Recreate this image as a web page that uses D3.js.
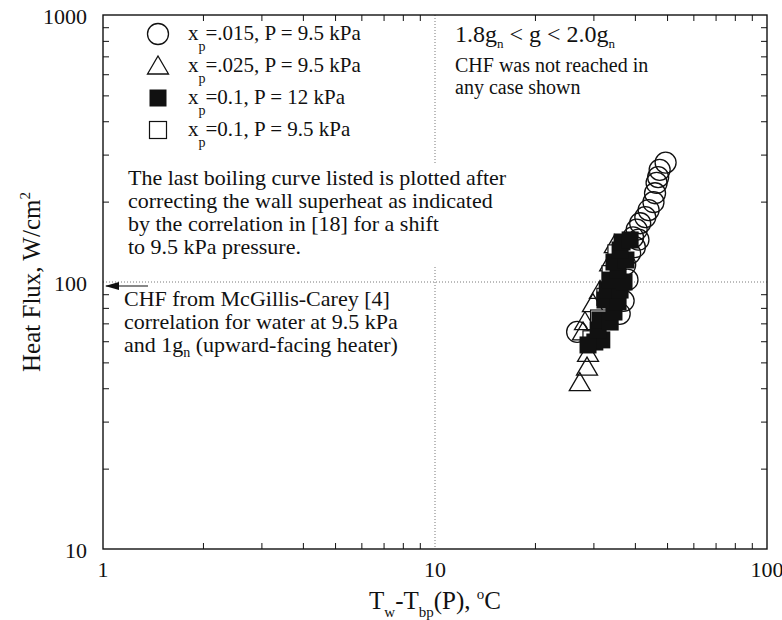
<!DOCTYPE html>
<html>
<head>
<meta charset="utf-8">
<script src="https://cdn.jsdelivr.net/npm/d3@7"></script>
<style>
	body { margin: 0; background: #fff; }
	svg text { font-family: "Liberation Serif", "Times New Roman", serif; fill: #111; }
</style>
</head>
<body>
<svg id="boiling-chart" width="782" height="620"></svg>
<script>
// DATA
// - circles: xp=.015, P = 9.5 kPa
const circleSuperheat = [49.5, 47.5, 47, 46.5, 46, 45.5, 44, 43, 41.5, 40.5, 39.5, 41, 40, 38.7, 38, 37.4, 37, 36, 26.8];
const circleFlux = [280, 263, 247, 235, 215, 199, 186, 175, 166, 157, 147, 144, 135, 128, 102, 116, 85, 76, 65];
// - triangles: xp=.025, P = 9.5 kPa
const triangleSuperheat = [27.3, 28.7, 28.9, 27.9, 28.3, 29.9, 31.4, 33.7, 34.8];
const triangleFlux = [42, 48, 54, 65, 71, 83, 93, 118, 138];
// - open squares: xp=0.1, P = 9.5 kPa (mostly hidden below the filled ones)
const openSquareSuperheat = [29.6, 31.2, 32.6, 33.8, 35.2];
const openSquareFlux = [61, 73, 88, 107, 128];
// - filled squares: xp=0.1, P = 12 kPa
const filledSquareSuperheat = [30.3, 31.8, 28.9, 31.0, 31.4, 33.7, 34.6, 32.5, 35.6, 33.0, 36.1, 33.7, 37.1, 35.6, 34.6, 37.6, 36.1, 36.6, 38.7];
const filledSquareFlux = [59.6, 60.7, 58.1, 66.1, 72.1, 70.8, 77.2, 85.6, 84.2, 93.3, 93.3, 101.7, 100, 110.9, 118.8, 120.9, 131.8, 141.2, 143.7];
// - axes
const xTickValues = [1, 10, 100];
const yTickValues = [10, 100, 1000];
const gridX = [10];
const gridY = [100];

// GLOBAL CONSTANTS
const svg = d3.select('#boiling-chart');
const plotLeft = 103;
const plotRight = 767;
const plotTop = 15;
const plotBottom = 549;
const fontSize = 22;
const noteFontSize = 20;
const legendFontSize = 21;

const x = d3.scaleLog().domain([1, 100]).range([plotLeft, plotRight]);
const y = d3.scaleLog().domain([10, 1000]).range([plotBottom, plotTop]);

function initialize(){
	drawGrid();
	drawNotes();
	drawData();
	drawAxes();
	drawLegend();
	drawAxisTitles();
}

// dotted grid lines at 10 and 100
function drawGrid(){
	svg.selectAll('.grid-x')
		.data(gridX)
		.enter()
		.append('line')
			.attr('x1', d => x(d))
			.attr('x2', d => x(d))
			.attr('y1', plotTop)
			.attr('y2', plotBottom)
			.attr('stroke', '#555')
			.attr('stroke-width', 0.8)
			.attr('stroke-dasharray', '1,2');

	svg.selectAll('.grid-y')
		.data(gridY)
		.enter()
		.append('line')
			.attr('x1', plotLeft)
			.attr('x2', plotRight)
			.attr('y1', d => y(d))
			.attr('y2', d => y(d))
			.attr('stroke', '#555')
			.attr('stroke-width', 0.8)
			.attr('stroke-dasharray', '1,2');
}

// text blocks inside the plot
function drawNotes(){
	// white box behind the paragraph hides the grid line
	svg.append('rect')
		.attr('x', 120)
		.attr('y', 163)
		.attr('width', 430)
		.attr('height', 104)
		.attr('fill', '#fff');

	const paragraph = [
		'The last boiling curve listed is plotted after',
		'correcting the wall superheat as indicated',
		'by the correlation in [18] for a shift',
		'to 9.5 kPa pressure.'
	];
	paragraph.forEach(function(line, i){
		svg.append('text')
			.attr('x', 128)
			.attr('y', 185 + i * 23)
			.attr('font-size', fontSize)
			.text(line);
	});

	// CHF arrow pointing at the left axis
	svg.append('line')
		.attr('x1', plotLeft + 45)
		.attr('x2', plotLeft + 3)
		.attr('y1', y(100) + 4)
		.attr('y2', y(100) + 4)
		.attr('stroke', '#111')
		.attr('stroke-width', 1.2);
	svg.append('path')
		.attr('d', 'M' + (plotLeft + 2) + ',' + (y(100) + 4) + ' l14,-4 l0,8 z')
		.attr('fill', '#111');

	const chfLines = ['CHF from McGillis-Carey [4]', 'correlation for water at 9.5 kPa'];
	chfLines.forEach(function(line, i){
		svg.append('text')
			.attr('x', 124)
			.attr('y', 306 + i * 23)
			.attr('font-size', fontSize)
			.text(line);
	});
	let last = svg.append('text')
		.attr('x', 124)
		.attr('y', 352)
		.attr('font-size', fontSize);
	last.append('tspan').text('and 1g');
	last.append('tspan').attr('font-size', 14).attr('dy', 5).text('n');
	last.append('tspan').attr('dy', -5).text(' (upward-facing heater)');

	// gravity note, top right
	let g = svg.append('text')
		.attr('x', 455)
		.attr('y', 42)
		.attr('font-size', 24);
	g.append('tspan').text('1.8g');
	g.append('tspan').attr('font-size', 13).attr('dy', 6).text('n');
	g.append('tspan').attr('dy', -6).text(' < g < 2.0g');
	g.append('tspan').attr('font-size', 13).attr('dy', 6).text('n');

	['CHF was not reached in', 'any case shown'].forEach(function(line, i){
		svg.append('text')
			.attr('x', 455)
			.attr('y', 72 + i * 22)
			.attr('font-size', noteFontSize)
			.text(line);
	});
}

// symbol shapes, shared by the plot and the legend
function drawSymbol(sel, kind){
	if(kind == 'circle'){
		sel.append('circle')
			.attr('r', 10.5)
			.attr('fill', 'none')
			.attr('stroke', '#111')
			.attr('stroke-width', 1.3);
	}
	else if(kind == 'triangle'){
		sel.append('path')
			.attr('d', 'M0,-10 L10.5,8 L-10.5,8 Z')
			.attr('fill', 'none')
			.attr('stroke', '#111')
			.attr('stroke-width', 1.3);
	}
	else if(kind == 'filled'){
		sel.append('rect')
			.attr('x', -8.5).attr('y', -8.5)
			.attr('width', 17).attr('height', 17)
			.attr('fill', '#111');
	}
	else{
		sel.append('rect')
			.attr('x', -8.5).attr('y', -8.5)
			.attr('width', 17).attr('height', 17)
			.attr('fill', '#fff')
			.attr('stroke', '#111')
			.attr('stroke-width', 1.2);
	}
}

function drawSeries(xs, ys, kind){
	const pts = xs.map((d, i) => [d, ys[i]]);
	svg.append('g')
		.selectAll('g')
		.data(pts)
		.enter()
		.append('g')
			.attr('transform', d => 'translate(' + x(d[0]) + ',' + y(d[1]) + ')')
		.each(function(){ drawSymbol(d3.select(this), kind); });
}

function drawData(){
	drawSeries(circleSuperheat, circleFlux, 'circle');
	drawSeries(triangleSuperheat, triangleFlux, 'triangle');
	drawSeries(openSquareSuperheat, openSquareFlux, 'open');
	drawSeries(filledSquareSuperheat, filledSquareFlux, 'filled');
}

// log axes with inside ticks on all four sides
function drawAxes(){
	svg.append('rect')
		.attr('x', plotLeft)
		.attr('y', plotTop)
		.attr('width', plotRight - plotLeft)
		.attr('height', plotBottom - plotTop)
		.attr('fill', 'none')
		.attr('stroke', '#111')
		.attr('stroke-width', 1.4);

	const xMinor = x.ticks().filter(d => xTickValues.indexOf(d) < 0);
	const yMinor = y.ticks().filter(d => yTickValues.indexOf(d) < 0);

	svg.append('g').attr('transform', 'translate(0,' + plotBottom + ')')
		.call(d3.axisBottom(x).tickValues(xMinor).tickSize(-6).tickFormat(''));
	svg.append('g').attr('transform', 'translate(0,' + plotTop + ')')
		.call(d3.axisTop(x).tickValues(xMinor).tickSize(-6).tickFormat(''));
	svg.append('g').attr('transform', 'translate(' + plotLeft + ',0)')
		.call(d3.axisLeft(y).tickValues(yMinor).tickSize(-6).tickFormat(''));
	svg.append('g').attr('transform', 'translate(' + plotRight + ',0)')
		.call(d3.axisRight(y).tickValues(yMinor).tickSize(-6).tickFormat(''));
	svg.selectAll('.domain').remove();
	svg.selectAll('.tick line').attr('stroke', '#111').attr('stroke-width', 1);

	// tick labels
	svg.selectAll('.x-label')
		.data(xTickValues)
		.enter()
		.append('text')
			.attr('x', d => x(d))
			.attr('y', plotBottom + 28)
			.attr('text-anchor', 'middle')
			.attr('font-size', 22)
			.text(d => d);

	svg.selectAll('.y-label')
		.data(yTickValues)
		.enter()
		.append('text')
			.attr('x', plotLeft - 16)
			.attr('y', d => y(d) + 9)
			.attr('text-anchor', 'end')
			.attr('font-size', 22)
			.text(d => d);
}

function drawLegend(){
	const entries = [
		{ kind: 'circle', text: '=.015, P = 9.5 kPa' },
		{ kind: 'triangle', text: '=.025, P = 9.5 kPa' },
		{ kind: 'filled', text: '=0.1, P = 12 kPa' },
		{ kind: 'open', text: '=0.1, P = 9.5 kPa' }
	];
	entries.forEach(function(e, i){
		const cy = 34 + i * 32;
		const sym = svg.append('g').attr('transform', 'translate(158,' + cy + ')');
		drawSymbol(sym, e.kind);
		let t = svg.append('text')
			.attr('x', 188)
			.attr('y', cy + 6)
			.attr('font-size', legendFontSize);
		t.append('tspan').text('x');
		t.append('tspan').attr('font-size', 14).attr('dy', 11).text('p');
		t.append('tspan').attr('dy', -11).text(e.text);
	});
}

function drawAxisTitles(){
	let xt = svg.append('text')
		.attr('x', 435)
		.attr('y', 609)
		.attr('text-anchor', 'middle')
		.attr('font-size', 25);
	xt.append('tspan').text('T');
	xt.append('tspan').attr('font-size', 15).attr('dy', 8).text('w');
	xt.append('tspan').attr('dy', -8).text('-T');
	xt.append('tspan').attr('font-size', 15).attr('dy', 8).text('bp');
	xt.append('tspan').attr('dy', -8).text('(P), ');
	xt.append('tspan').attr('font-size', 15).attr('dy', -10).text('o');
	xt.append('tspan').attr('dy', 10).text('C');

	let yt = svg.append('text')
		.attr('transform', 'translate(40,' + ((plotTop + plotBottom) / 2) + ') rotate(-90)')
		.attr('text-anchor', 'middle')
		.attr('font-size', 25);
	yt.append('tspan').text('Heat Flux, W/cm');
	yt.append('tspan').attr('font-size', 15).attr('dy', -10).text('2');
}

initialize();
</script>
</body>
</html>
